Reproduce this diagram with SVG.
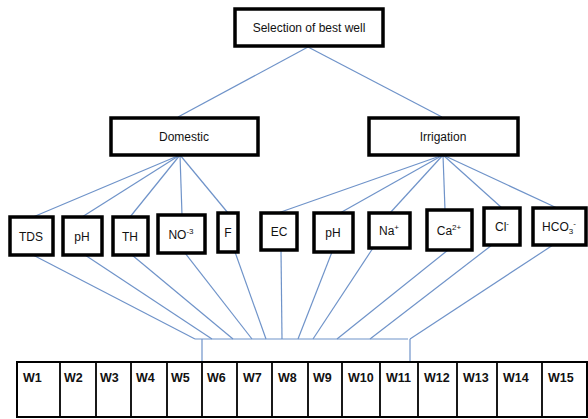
<svg xmlns="http://www.w3.org/2000/svg" width="588" height="419" viewBox="0 0 588 419">
<style>
.box{fill:#fff;stroke:#000;stroke-width:3.5}
.t{font-family:"Liberation Sans",Arial,sans-serif;font-size:12px;fill:#111;text-anchor:middle}
.w{font-family:"Liberation Sans",Arial,sans-serif;font-size:12.5px;font-weight:bold;fill:#111}
.c line,.c polyline{stroke:#6f93c9;stroke-width:1.2;fill:none}
.tb{fill:#fff;stroke:#000;stroke-width:2}
.div{stroke:#000;stroke-width:1.8}
</style>
<rect width="588" height="419" fill="#fff"/>
<g class="c" id="connectors">
<line x1="308" y1="47" x2="178" y2="117"/>
<line x1="308" y1="47" x2="442" y2="117"/>
<line x1="180" y1="155" x2="33" y2="217"/>
<line x1="180" y1="155" x2="82" y2="217"/>
<line x1="180" y1="155" x2="130" y2="217"/>
<line x1="180" y1="155" x2="182" y2="215"/>
<line x1="180" y1="155" x2="228" y2="213"/>
<line x1="443" y1="155" x2="278" y2="213"/>
<line x1="443" y1="155" x2="340" y2="213"/>
<line x1="443" y1="155" x2="390" y2="213"/>
<line x1="443" y1="155" x2="445" y2="210"/>
<line x1="443" y1="155" x2="502" y2="208"/>
<line x1="443" y1="155" x2="557" y2="208"/>
<line x1="33" y1="255" x2="195" y2="339"/>
<line x1="85" y1="255" x2="212" y2="339"/>
<line x1="132" y1="255" x2="233" y2="339"/>
<line x1="185" y1="253" x2="252" y2="339"/>
<line x1="235" y1="252" x2="266" y2="339"/>
<line x1="281" y1="250" x2="282" y2="339"/>
<line x1="332" y1="252" x2="298" y2="339"/>
<line x1="373" y1="248" x2="313" y2="339"/>
<line x1="448" y1="250" x2="337" y2="339"/>
<line x1="492" y1="245" x2="370" y2="339"/>
<line x1="553" y1="245" x2="410" y2="339"/>
<line x1="195" y1="339" x2="408" y2="339"/>
<line x1="202" y1="339" x2="202" y2="362"/>
<line x1="410" y1="339" x2="410" y2="362"/>
</g>
<g id="selection"><rect class="box" x="235" y="9" width="148" height="37"/><text class="t" x="309" y="32">Selection of best well</text></g>
<g id="domestic"><rect class="box" x="111" y="118" width="147" height="37"/><text class="t" x="184" y="141">Domestic</text></g>
<g id="irrigation"><rect class="box" x="369" y="118" width="149" height="37"/><text class="t" x="443" y="141">Irrigation</text></g>
<g id="tds"><rect class="box" x="10" y="217" width="43" height="38"/><text class="t" x="31" y="241">TDS</text></g>
<g id="ph-d"><rect class="box" x="63" y="217" width="39" height="38"/><text class="t" x="82" y="241">pH</text></g>
<g id="th"><rect class="box" x="113" y="217" width="35" height="38"/><text class="t" x="130" y="241">TH</text></g>
<g id="no3"><rect class="box" x="158" y="215" width="47" height="38"/><text class="t" x="181" y="239">NO<tspan font-size="8" dy="-5">-3</tspan></text></g>
<g id="f"><rect class="box" x="218" y="213" width="20" height="39"/><text class="t" x="228" y="237">F</text></g>
<g id="ec"><rect class="box" x="261" y="213" width="36" height="37"/><text class="t" x="279" y="236">EC</text></g>
<g id="ph-i"><rect class="box" x="314" y="213" width="39" height="39"/><text class="t" x="333" y="237">pH</text></g>
<g id="na"><rect class="box" x="369" y="213" width="41" height="35"/><text class="t" x="389" y="235">Na<tspan font-size="8" dy="-5">+</tspan></text></g>
<g id="ca"><rect class="box" x="427" y="210" width="45" height="40"/><text class="t" x="449" y="235">Ca<tspan font-size="8" dy="-5">2+</tspan></text></g>
<g id="cl"><rect class="box" x="484" y="208" width="36" height="37"/><text class="t" x="502" y="231">Cl<tspan font-size="8" dy="-5">-</tspan></text></g>
<g id="hco3"><rect class="box" x="533" y="208" width="53" height="37"/><text class="t" x="559" y="231">HCO<tspan font-size="8" dy="3">3</tspan><tspan font-size="8" dy="-8">-</tspan></text></g>
<g id="wells">
<rect class="tb" x="17" y="362" width="570" height="55"/>
<line class="div" x1="60" y1="362" x2="60" y2="417"/>
<line class="div" x1="96" y1="362" x2="96" y2="417"/>
<line class="div" x1="131" y1="362" x2="131" y2="417"/>
<line class="div" x1="167" y1="362" x2="167" y2="417"/>
<line class="div" x1="202" y1="362" x2="202" y2="417"/>
<line class="div" x1="237" y1="362" x2="237" y2="417"/>
<line class="div" x1="272" y1="362" x2="272" y2="417"/>
<line class="div" x1="308" y1="362" x2="308" y2="417"/>
<line class="div" x1="342" y1="362" x2="342" y2="417"/>
<line class="div" x1="380" y1="362" x2="380" y2="417"/>
<line class="div" x1="418" y1="362" x2="418" y2="417"/>
<line class="div" x1="457" y1="362" x2="457" y2="417"/>
<line class="div" x1="497" y1="362" x2="497" y2="417"/>
<line class="div" x1="542" y1="362" x2="542" y2="417"/>
<text class="w" x="23" y="382">W1</text>
<text class="w" x="64" y="382">W2</text>
<text class="w" x="100" y="382">W3</text>
<text class="w" x="136" y="382">W4</text>
<text class="w" x="171" y="382">W5</text>
<text class="w" x="207" y="382">W6</text>
<text class="w" x="243" y="382">W7</text>
<text class="w" x="278" y="382">W8</text>
<text class="w" x="313" y="382">W9</text>
<text class="w" x="348" y="382">W10</text>
<text class="w" x="386" y="382">W11</text>
<text class="w" x="424" y="382">W12</text>
<text class="w" x="463" y="382">W13</text>
<text class="w" x="503" y="382">W14</text>
<text class="w" x="548" y="382">W15</text>
</g>
</svg>
